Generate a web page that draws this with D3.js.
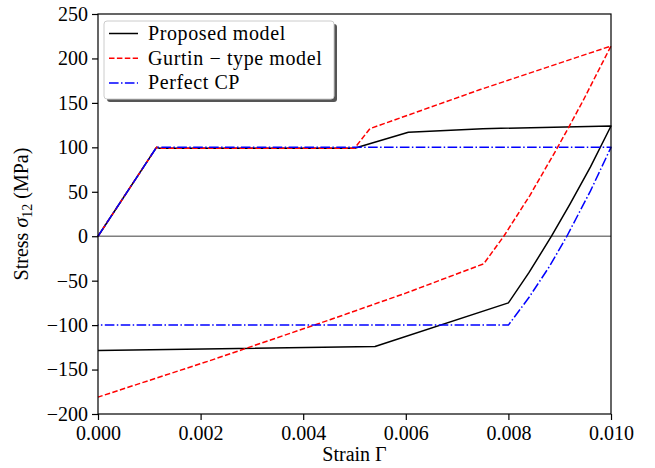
<!DOCTYPE html>
<html>
<head>
<meta charset="utf-8">
<script src="https://cdn.jsdelivr.net/npm/d3@7"></script>
<style>
body { margin: 0; background: #fff; }
svg text { font-family: "Liberation Serif", "DejaVu Serif", serif !important; }
</style>
</head>
<body>
<div id="root"></div>
<script>
var width = 655;
var height = 468;

// tick values
var xTicks = [0, 0.002, 0.004, 0.006, 0.008, 0.010];
var yTicks = [-200, -150, -100, -50, 0, 50, 100, 150, 200, 250];

// Proposed model (load then unload)
var proposedStrain = [0, 0.00114, 0.0012, 0.0050, 0.00605, 0.0075, 0.010, 0.0096, 0.0092, 0.00884, 0.0084, 0.0080, 0.0054, 0];
var proposedStress = [0, 100, 99, 99, 117, 121, 124, 78, 36, 0, -41, -75, -124, -128.5];

// Gurtin-type model
var gurtinStrain = [0, 0.00114, 0.0012, 0.0050, 0.0053, 0.00745, 0.010, 0.00946, 0.00917, 0.00894, 0.00842, 0.00791, 0.00752, 0.0060, 0.00452, 0.00218, 0];
var gurtinStress = [0, 100, 99, 99, 121, 165, 214, 153, 122, 98, 46, 0, -31, -64, -94, -140, -181];

// Perfect CP
var perfectStrain = [0, 0.00114, 0.010, 0.0096, 0.00914, 0.0088, 0.0084, 0.0080, 0];
var perfectStress = [0, 100, 100, 51, 0, -34, -69, -100, -100];

var seriesNames = ["Proposed model", "Gurtin \u2212 type model", "Perfect CP"];

var serif = "'Liberation Serif', 'DejaVu Serif', serif";
var margin = {left: 98, right: 44, top: 14, bottom: 54};

var svg = d3.select("#root")
.append("svg")
.attr("width", width)
.attr("height", height)
.style("font-family", serif);

var x = d3.scaleLinear()
.domain([0, 0.010])
.range([margin.left, width - margin.right]);

var y = d3.scaleLinear()
.domain([-200, 250])
.range([height - margin.bottom, margin.top]);

// zero line
svg.append("line")
.attr("x1", x(0)).attr("x2", x(0.010))
.attr("y1", y(0)).attr("y2", y(0))
.attr("stroke", "#7f7f7f")
.attr("stroke-width", 1.5);

function zipPts(xs, ys) {
	return xs.map(function(v, i) { return [v, ys[i]]; });
}

var line = d3.line()
.x(function(d) { return x(d[0]); })
.y(function(d) { return y(d[1]); });

var series = [
	{pts: zipPts(proposedStrain, proposedStress), color: "black", dash: null},
	{pts: zipPts(gurtinStrain, gurtinStress), color: "red", dash: "5.5,2.4"},
	{pts: zipPts(perfectStrain, perfectStress), color: "blue", dash: "9.6,2.4,1.5,2.4"}
];

svg.append("g")
.selectAll("path")
.data(series)
.enter()
.append("path")
.attr("fill", "none")
.attr("stroke", function(d) { return d.color; })
.attr("stroke-width", 1.5)
.attr("stroke-dasharray", function(d) { return d.dash; })
.attr("stroke-linejoin", "round")
.attr("d", function(d) { return line(d.pts); });

// axes
var xAxis = d3.axisBottom(x)
.tickValues(xTicks)
.tickSize(6)
.tickPadding(6)
.tickFormat(d3.format(".3f"));

var yAxis = d3.axisLeft(y)
.tickValues(yTicks)
.tickSize(6)
.tickPadding(4)
.tickFormat(function(d) { return d < 0 ? "\u2212" + Math.abs(d) : d; });

var gx = svg.append("g")
.attr("transform", "translate(0," + y(-200) + ")")
.call(xAxis);

var gy = svg.append("g")
.attr("transform", "translate(" + x(0) + ",0)")
.call(yAxis);

[gx, gy].forEach(function(g) {
	g.attr("font-family", null).attr("font-size", null);
	g.select(".domain").remove();
	g.selectAll("line").attr("stroke", "black").attr("stroke-width", 1.2);
	g.selectAll("text")
	.style("font-family", serif)
	.style("font-size", "20px")
	.attr("fill", "black");
});

// frame
svg.append("rect")
.attr("x", x(0))
.attr("y", y(250))
.attr("width", x(0.010) - x(0))
.attr("height", y(-200) - y(250))
.attr("fill", "none")
.attr("stroke", "black")
.attr("stroke-width", 1.2);

// axis labels
svg.append("text")
.attr("x", (x(0) + x(0.010)) / 2)
.attr("y", 461)
.attr("text-anchor", "middle")
.style("font-size", "20px")
.text("Strain \u0393");

var ylab = svg.append("text")
.attr("transform", "translate(28," + (y(250) + y(-200)) / 2 + ") rotate(-90)")
.attr("text-anchor", "middle")
.style("font-size", "20px");
ylab.append("tspan").text("Stress ");
ylab.append("tspan").attr("font-style", "italic").text("\u03c3");
ylab.append("tspan").style("font-size", "14px").attr("dy", 4).text("12");
ylab.append("tspan").attr("dy", -4).text(" (MPa)");

// legend
var legend = svg.append("g")
.attr("transform", "translate(104,21)");

legend.append("rect")
.attr("x", 3).attr("y", 3)
.attr("width", 230).attr("height", 78)
.attr("rx", 3)
.attr("fill", "#555");

legend.append("rect")
.attr("x", 0).attr("y", 0)
.attr("width", 230).attr("height", 78)
.attr("rx", 3)
.attr("fill", "white")
.attr("stroke", "#ccc")
.attr("stroke-width", 1);

var rows = legend.selectAll("g.row")
.data(series)
.enter()
.append("g")
.attr("class", "row")
.attr("transform", function(d, i) { return "translate(0," + (12.5 + i * 24.7) + ")"; });

rows.append("line")
.attr("x1", 5).attr("x2", 34)
.attr("y1", 0).attr("y2", 0)
.attr("stroke", function(d) { return d.color; })
.attr("stroke-width", 1.5)
.attr("stroke-dasharray", function(d) { return d.dash; });

rows.append("text")
.attr("x", 44)
.attr("y", 6.5)
.style("font-size", "20px")
.attr("letter-spacing", "0.6px")
.text(function(d, i) { return seriesNames[i]; });
</script>
</body>
</html>
